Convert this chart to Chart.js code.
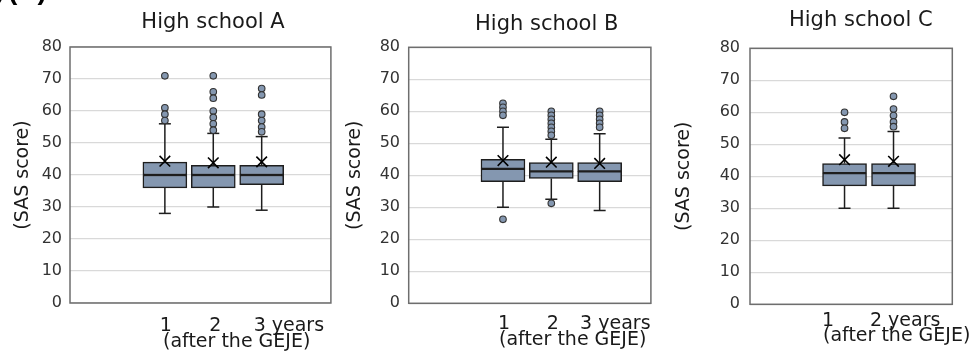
<!DOCTYPE html>
<html><head><meta charset="utf-8">
<script src="https://cdn.jsdelivr.net/npm/chart.js@4.4.1/dist/chart.umd.min.js"></script>
<style>
html,body{margin:0;padding:0;background:#fff;}
body{width:973px;height:354px;position:relative;overflow:hidden;}
canvas{position:absolute;top:0;}
</style></head><body>
<canvas id="cA" width="340" height="354" style="left:0px"></canvas>
<canvas id="cB" width="320" height="354" style="left:340px"></canvas>
<canvas id="cC" width="313" height="354" style="left:660px"></canvas>
<script>
// ---------- DATA ----------
const titles = ['High school A', 'High school B', 'High school C'];
const yAxisTitle = '(SAS score)';
const xAxisNote = '(after the GEJE)';
const headerText = ['y', '(A)'];

const yearLabelsA = ['1', '2', '3 years'];
const minA  = [28, 30, 29];
const q1A   = [36, 36, 37];
const medA  = [40, 40, 40];
const q3A   = [44, 43, 43];
const maxA  = [56, 53, 52];
const meanA = [44.3, 43.8, 44.1];
const outA  = [[71, 61, 59, 57], [71, 66, 64, 60, 58, 56, 54], [67, 65, 59, 57, 55, 53.5]];

const yearLabelsB = ['1', '2', '3 years'];
const minB  = [30, 32.5, 29];
const q1B   = [38, 39, 38];
const medB  = [42, 41.25, 41.25];
const q3B   = [45, 44, 44];
const maxB  = [55, 51.25, 53];
const meanB = [44.6, 44.1, 43.7];
const outB  = [[62.5, 61.25, 60, 58.75, 26.25], [60, 58.75, 57.5, 56.25, 55, 53.75, 52.5, 31.25], [60, 58.75, 57.5, 56.25, 55]];

const yearLabelsC = ['1', '2 years'];
const minC  = [30, 30];
const q1C   = [37, 37];
const medC  = [41, 41];
const q3C   = [44, 44];
const maxC  = [52, 54];
const meanC = [45.2, 44.7];
const outC  = [[60, 57, 55], [65, 61, 59, 57, 55.5]];

// ---------- STYLE ----------
const FONT = '"DejaVu Sans", Verdana, sans-serif';
const BOX_FILL = '#8497B0';
const LINE = '#1e1e1e';

function buildChart(id, d, L) {
  const xs = d.labels.map((_, i) => i + 1);
  const lowBox = xs.map((x, i) => ({x, y: [d.q1[i], d.med[i]]}));
  const upBox  = xs.map((x, i) => ({x, y: [d.med[i], d.q3[i]]}));
  const whisk = [];
  xs.forEach((x, i) => {
    whisk.push({x, y: d.q3[i]}, {x, y: d.max[i]}, {x, y: null},
               {x, y: d.min[i]}, {x, y: d.q1[i]}, {x, y: null});
  });
  const caps = [];
  xs.forEach((x, i) => { caps.push({x, y: d.max[i]}, {x, y: d.min[i]}); });
  const outs = [];
  xs.forEach((x, i) => d.out[i].forEach(v => outs.push({x, y: v})));
  const means = xs.map((x, i) => ({x, y: d.mean[i]}));

  const textPlugin = {
    id: 'texts' + id,
    afterDraw(chart) {
      const ctx = chart.ctx;
      const ca = chart.chartArea;
      const xs_ = chart.scales.x;
      ctx.save();
      // frame
      ctx.strokeStyle = '#6e6e6e';
      ctx.lineWidth = 1.5;
      ctx.strokeRect(ca.left, ca.top, ca.right - ca.left, ca.bottom - ca.top);
      // title
      ctx.fillStyle = '#1a1a1a';
      ctx.font = '21px ' + FONT;
      ctx.textAlign = 'center';
      ctx.textBaseline = 'alphabetic';
      ctx.fillText(d.title, L.titleX, L.titleY);
      // x labels
      ctx.font = '19px ' + FONT;
      ctx.fillStyle = '#1a1a1a';
      d.labels.forEach((lab, i) => {
        const px = xs_.getPixelForValue(i + 1) + L.shift[i];
        const num = lab.split(' ')[0];
        const w = ctx.measureText(num).width;
        ctx.textAlign = 'left';
        ctx.fillText(lab, px - w / 2, L.labY);
      });
      ctx.textAlign = 'left';
      ctx.fillText(xAxisNote, L.noteX, L.noteY);
      if (L.header) {
        ctx.font = 'bold 28px "Liberation Sans", Arial, sans-serif';
        ctx.fillStyle = '#000';
        ctx.fillText(headerText[0], -8, -1);
        ctx.fillText(headerText[1], 8, -1);
      }
      ctx.restore();
    }
  };

  return new Chart(document.getElementById(id), {
    type: 'bar',
    data: {
      datasets: [
        {type: 'scatter', data: means, pointStyle: 'crossRot', pointRadius: 7.5,
         borderColor: '#000', borderWidth: 1.6, backgroundColor: '#000', order: 0},
        {type: 'scatter', data: outs, pointStyle: 'circle', pointRadius: 3.3,
         backgroundColor: BOX_FILL, borderColor: '#333', borderWidth: 1.1, order: 1},
        {type: 'scatter', data: caps, pointStyle: 'line', pointRadius: 6,
         borderColor: LINE, borderWidth: 1.5, order: 2},
        {type: 'bar', data: lowBox, backgroundColor: BOX_FILL, borderColor: LINE,
         borderWidth: 1.5, borderSkipped: false, grouped: false, barThickness: 44, order: 3},
        {type: 'bar', data: upBox, backgroundColor: BOX_FILL, borderColor: LINE,
         borderWidth: 1.5, borderSkipped: false, grouped: false, barThickness: 44, order: 3},
        {type: 'line', data: whisk, borderColor: LINE, borderWidth: 1.5, pointRadius: 0,
         spanGaps: false, fill: false, order: 4}
      ]
    },
    options: {
      responsive: false,
      animation: false,
      events: [],
      layout: {padding: {top: L.top, right: L.right, bottom: L.bottom, left: 0}},
      plugins: {legend: {display: false}, tooltip: {enabled: false}},
      scales: {
        x: {type: 'linear', min: L.xmin, max: L.xmax, offset: false, display: false},
        y: {
          min: 0, max: 80,
          ticks: {stepSize: 10, color: '#333', font: {family: FONT, size: 16}, padding: L.tickPad},
          grid: {color: '#d9d9d9', lineWidth: 1.2, drawTicks: false},
          border: {display: false},
          title: {display: true, text: yAxisTitle, color: '#1a1a1a',
                  font: {family: FONT, size: 19}, padding: {top: L.titlePad, bottom: 0}},
          afterFit(s) { s.width = L.axisW; }
        }
      }
    },
    plugins: [textPlugin]
  });
}

buildChart('cA',
  {title: titles[0], labels: yearLabelsA, min: minA, q1: q1A, med: medA, q3: q3A, max: maxA, mean: meanA, out: outA},
  {top: 47, right: 8, bottom: 51, axisW: 70, tickPad: 8, titlePad: 12, xmin: -0.96, xmax: 4.43,
   titleX: 213, titleY: 28, shift: [1, 2, -2], labY: 331, noteX: 163, noteY: 347, header: true});
buildChart('cB',
  {title: titles[1], labels: yearLabelsB, min: minB, q1: q1B, med: medB, q3: q3B, max: maxB, mean: meanB, out: outB},
  {top: 47.3, right: 6.7, bottom: 50.7, axisW: 68.7, tickPad: 8.7, titlePad: 4, xmin: -0.95, xmax: 4.06,
   titleX: 206.7, titleY: 30, shift: [1, 1.5, -13.5], labY: 329, noteX: 159, noteY: 345, header: false});
buildChart('cC',
  {title: titles[2], labels: yearLabelsC, min: minC, q1: q1C, med: medC, q3: q3C, max: maxC, mean: meanC, out: outC},
  {top: 48.3, right: 20.7, bottom: 49.7, axisW: 90, tickPad: 10, titlePad: 12.6, xmin: -0.93, xmax: 3.2,
   titleX: 200.8, titleY: 26, shift: [-16.5, -17.5], labY: 326, noteX: 163, noteY: 341, header: false});
</script>
</body></html>
